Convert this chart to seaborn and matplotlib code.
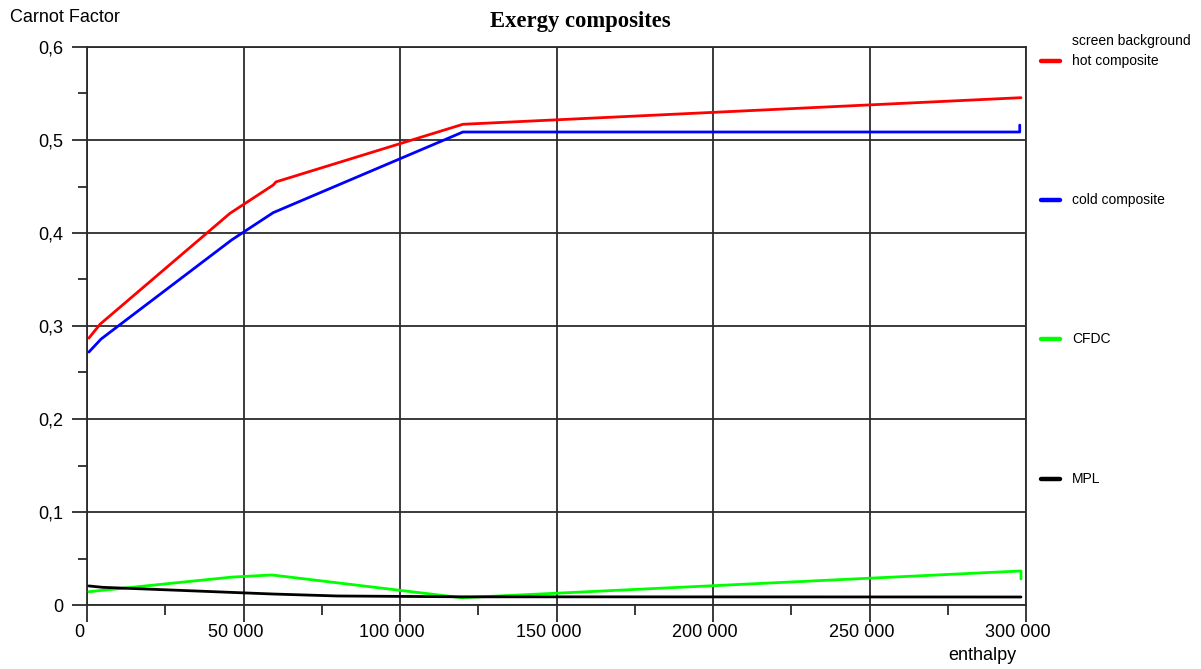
import matplotlib
matplotlib.use("Agg")
import matplotlib.pyplot as plt
import matplotlib.transforms as mtransforms
from matplotlib.lines import Line2D
from matplotlib.ticker import MultipleLocator, FuncFormatter
import seaborn as sns
import pandas as pd

# ---- data ----
hot_x = [600, 4200, 45700, 59500, 60400, 120100, 298400]
hot_y = [0.287, 0.302, 0.4212, 0.4516, 0.455, 0.5169, 0.5455]

cold_x = [600, 4500, 46200, 59500, 120100, 298000, 298000]
cold_y = [0.272, 0.286, 0.3925, 0.4219, 0.5086, 0.5086, 0.516]

cfdc_x = [600, 46300, 59100, 119700, 298400, 298400]
cfdc_y = [0.0143, 0.0300, 0.0323, 0.0078, 0.0366, 0.028]

mpl_x = [600, 5000, 59500, 80000, 120000, 298400]
mpl_y = [0.0205, 0.0190, 0.0118, 0.0097, 0.0088, 0.0086]

series_names = ["hot composite", "cold composite", "CFDC", "MPL"]
series_colors = ["#ff0000", "#0000ff", "#00ff00", "#000000"]
legend_labels = ["screen background", "hot composite", "cold composite", "CFDC", "MPL"]

x_ticks = [0, 50000, 100000, 150000, 200000, 250000, 300000]
y_ticks = [0, 0.1, 0.2, 0.3, 0.4, 0.5, 0.6]

title = "Exergy composites"
y_label = "Carnot Factor"
x_label = "enthalpy"

# ---- styling ----
sns.set_theme(style="white")
plt.rcParams["font.family"] = ["Liberation Sans", "DejaVu Sans"]
plt.rcParams["text.color"] = "black"

W, H = 1201, 669
fig = plt.figure(figsize=(W / 100, H / 100), dpi=100)
ax = fig.add_axes([87 / W, 1 - 605 / H, (1026 - 87) / W, (605 - 47) / H])

grid_col = "#2b2b2b"
xs = [hot_x, cold_x, cfdc_x, mpl_x]
ys = [hot_y, cold_y, cfdc_y, mpl_y]
for name, col, xv, yv in zip(series_names, series_colors, xs, ys):
    df = pd.DataFrame({"x": xv, "y": yv})
    sns.lineplot(data=df, x="x", y="y", sort=False, estimator=None, ax=ax,
                 color=col, linewidth=2.0, zorder=3)

ax.set_xlim(0, 300000)
ax.set_ylim(0, 0.6)
ax.set_xticks(x_ticks)
ax.set_yticks(y_ticks)
ax.xaxis.set_minor_locator(MultipleLocator(25000))
ax.yaxis.set_minor_locator(MultipleLocator(0.05))

ax.xaxis.set_major_formatter(FuncFormatter(lambda v, p: f"{int(round(v)):,}".replace(",", " ")))
ax.yaxis.set_major_formatter(FuncFormatter(lambda v, p: "0" if abs(v) < 1e-9 else f"{v:.1f}".replace(".", ",")))

ax.grid(True, which="major", color=grid_col, linewidth=1.3)
for s in ax.spines.values():
    s.set_visible(True)
    s.set_color(grid_col)
    s.set_linewidth(1.3)

ax.tick_params(axis="x", which="major", direction="out", length=12, width=1.3,
               color=grid_col, labelcolor="black", labelsize=13, pad=2, bottom=True)
ax.tick_params(axis="x", which="minor", direction="out", length=7, width=1.3,
               color=grid_col, bottom=True)
ax.tick_params(axis="y", which="major", direction="out", length=11, width=1.3,
               color=grid_col, labelcolor="black", labelsize=13, pad=6, left=True)
ax.tick_params(axis="y", which="minor", direction="out", length=6.5, width=1.3,
               color=grid_col, left=True)

offset = mtransforms.ScaledTranslation(-8 / 100, 0, fig.dpi_scale_trans)
for lab in ax.get_xticklabels():
    lab.set_transform(lab.get_transform() + offset)

ax.set_xlabel("")
ax.set_ylabel("")

fig.text(580 / W, 1 - 22 / H, title, ha="center", va="center", color="black",
         fontsize=16.3, fontweight="bold", family=["Liberation Serif", "DejaVu Serif"])
fig.text(10 / W, 1 - 17 / H, y_label, ha="left", va="center", fontsize=13, color="black")
fig.text(982 / W, 1 - 655 / H, x_label, ha="center", va="center", fontsize=13, color="black")

# ---- legend on the right ----
leg_y = [41, 61, 200, 339, 479]
leg_cols = [None] + series_colors
for lab, yy, col in zip(legend_labels, leg_y, leg_cols):
    fy = 1 - yy / H
    if col is not None:
        fig.add_artist(Line2D([1041 / W, 1060 / W], [fy, fy], color=col,
                              linewidth=3.2, transform=fig.transFigure))
    fig.text(1072 / W, fy, lab, ha="left", va="center", fontsize=10, color="black")

fig.savefig("out.png", dpi=100)
